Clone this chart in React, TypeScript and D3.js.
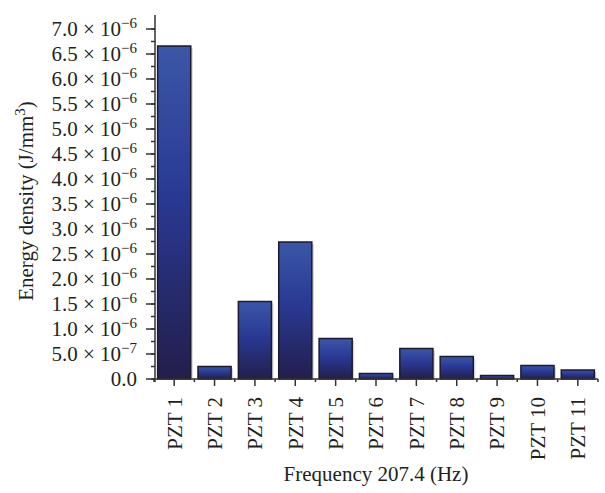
import React from "react";
import * as d3 from "d3";

const categories = ["PZT 1", "PZT 2", "PZT 3", "PZT 4", "PZT 5", "PZT 6", "PZT 7", "PZT 8", "PZT 9", "PZT 10", "PZT 11"];
const energyValues = [6.66e-6, 0.25e-6, 1.55e-6, 2.74e-6, 0.81e-6, 0.11e-6, 0.61e-6, 0.45e-6, 0.07e-6, 0.27e-6, 0.18e-6];
const yTickValues = [0, 0.5e-6, 1e-6, 1.5e-6, 2e-6, 2.5e-6, 3e-6, 3.5e-6, 4e-6, 4.5e-6, 5e-6, 5.5e-6, 6e-6, 6.5e-6, 7e-6];
const yTickMantissas = ["0.0", "5.0", "1.0", "1.5", "2.0", "2.5", "3.0", "3.5", "4.0", "4.5", "5.0", "5.5", "6.0", "6.5", "7.0"];
const yTickExponents = ["", "−7", "−6", "−6", "−6", "−6", "−6", "−6", "−6", "−6", "−6", "−6", "−6", "−6", "−6"];
const xTitle = "Frequency 207.4 (Hz)";

const W = 605, H = 493;
const FONT = "'Liberation Serif', 'Times New Roman', serif";

export default function App() {
  const x = d3.scaleBand<string>().domain(categories).range([154, 598]).padding(0);
  const y = d3.scaleLinear().domain([0, 7.28e-6]).range([379, 15]);
  const bw = x.bandwidth();
  const barW = bw * 0.82;
  const minorY = d3.range(0, 29).map((i) => i * 0.25e-6).filter((v) => v <= 7.28e-6);
  const axisColor = "#333";
  const fs = 21;
  const sfs = 15;

  return (
    <svg width={W} height={H} style={{ position: "absolute", left: 0, top: 0, background: "#fff" }} fontFamily={FONT}>
      <defs>
        <linearGradient id="barGrad" x1="0" y1="0" x2="0" y2="1">
          <stop offset="0%" stopColor="#3b57a7" />
          <stop offset="45%" stopColor="#293993" />
          <stop offset="100%" stopColor="#231e4c" />
        </linearGradient>
      </defs>

      {/* bars */}
      {categories.map((c, i) => {
        const bx = (x(c) as number) + (bw - barW) / 2;
        const top = y(energyValues[i]);
        const h = y(0) - top;
        return (
          <g key={c}>
            <rect x={bx + 2} y={top + 2} width={barW} height={h - 2} fill="#d4d4d4" />
            <rect x={bx} y={top} width={barW} height={h} fill="url(#barGrad)" stroke="#1c1a2e" strokeWidth={1.5} />
          </g>
        );
      })}

      {/* y axis */}
      <line x1={155} x2={155} y1={15} y2={382} stroke={axisColor} strokeWidth={1.5} />
      {minorY.map((v, i) => (
        <line key={"ym" + i} x1={151} x2={155} y1={y(v)} y2={y(v)} stroke={axisColor} strokeWidth={1.5} />
      ))}
      {yTickValues.map((v, i) => (
        <g key={"yt" + i}>
          <line x1={146} x2={155} y1={y(v)} y2={y(v)} stroke={axisColor} strokeWidth={1.5} />
          <text x={137} y={y(v)} dy="0.35em" textAnchor="end" fontSize={fs} fill="#231f20">
            {yTickExponents[i] ? (
              <>
                {yTickMantissas[i] + " × 10"}
                <tspan fontSize={sfs} dy={-8}>{yTickExponents[i]}</tspan>
              </>
            ) : (
              yTickMantissas[i]
            )}
          </text>
        </g>
      ))}

      {/* x axis */}
      <line x1={154} x2={598} y1={379} y2={379} stroke={axisColor} strokeWidth={1.5} />
      {categories.map((c) => (
        <line key={"xe" + c} x1={x(c) as number} x2={x(c) as number} y1={379} y2={382} stroke={axisColor} strokeWidth={1.5} />
      ))}
      <line x1={598} x2={598} y1={379} y2={382} stroke={axisColor} strokeWidth={1.5} />
      {categories.map((c) => {
        const cx = (x(c) as number) + bw / 2;
        return (
          <g key={"xt" + c}>
            <line x1={cx} x2={cx} y1={379} y2={386} stroke={axisColor} strokeWidth={1.5} />
            <text transform={`translate(${cx},397) rotate(-90)`} dy="0.35em" textAnchor="end" fontSize={fs} fill="#231f20">
              {c}
            </text>
          </g>
        );
      })}

      {/* titles */}
      <text x={376} y={481} textAnchor="middle" fontSize={fs} fill="#231f20">{xTitle}</text>
      <text transform="translate(33,201) rotate(-90)" textAnchor="middle" fontSize={fs} fill="#231f20">
        Energy density (J/mm<tspan fontSize={sfs} dy={-8}>3</tspan><tspan dy={8}>)</tspan>
      </text>
    </svg>
  );
}
